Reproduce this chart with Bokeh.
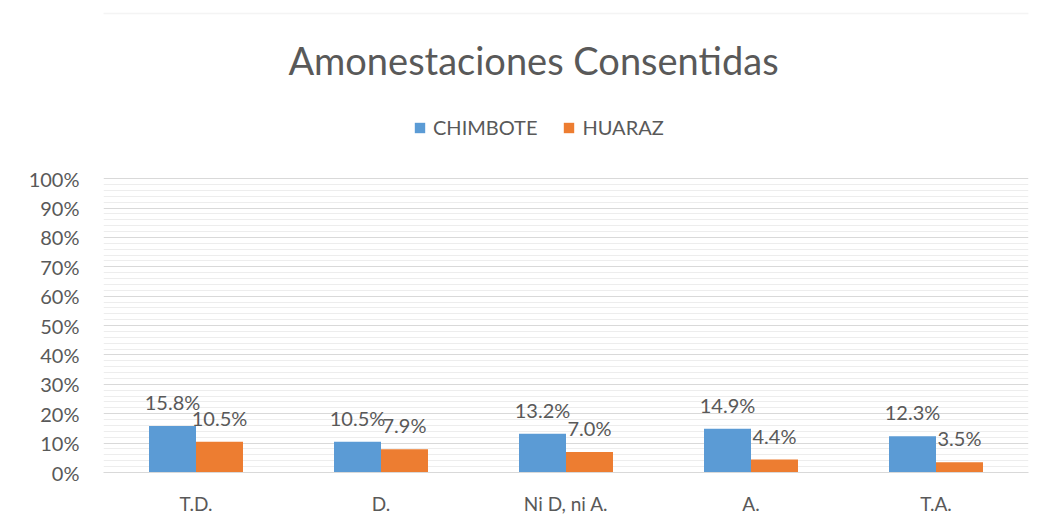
from bokeh.plotting import figure
from bokeh.models import (ColumnDataSource, FactorRange, Range1d, FixedTicker,
                          PrintfTickFormatter, LabelSet, Legend, LegendItem, Label,
                          BoxAnnotation)
from bokeh.core.properties import value
from bokeh.transform import dodge
from bokeh.embed import file_html
from bokeh.resources import INLINE

categories = ["T.D.", "D.", "Ni D, ni A.", "A.", "T.A."]
chimbote = [15.8, 10.5, 13.2, 14.9, 12.3]
huaraz = [10.5, 7.9, 7.0, 4.4, 3.5]
series_names = ["CHIMBOTE", "HUARAZ"]
title_text = "Amonestaciones Consentidas"
major_ticks = [0, 10, 20, 30, 40, 50, 60, 70, 80, 90, 100]
minor_ticks = [v for v in range(2, 100, 2) if v % 10 != 0]

BLUE = "#5B9BD5"
ORANGE = "#ED7D31"
TXT = "#595959"
FONT = "Lato"

src = ColumnDataSource(dict(
    cat=categories,
    chim=chimbote,
    hua=huaraz,
    chim_lbl=[f"{v:.1f}%" for v in chimbote],
    hua_lbl=[f"{v:.1f}%" for v in huaraz],
))

# frame: 295 px for 0..100 -> extended upward to the top of the figure for title/legend
PX = 2.95
BOTTOM = 474
LEFT = 103
YMAX = BOTTOM / PX
p = figure(width=1036, height=517, x_range=FactorRange(*categories, range_padding=0),
           y_range=Range1d(0, YMAX), output_backend="svg", toolbar_location=None,
           min_border_left=LEFT, min_border_right=8, min_border_bottom=517 - BOTTOM,
           min_border_top=0)
p.outline_line_color = None
p.background_fill_color = "white"
p.border_fill_color = "white"

# chart-area border (top edge)
box = BoxAnnotation(left=-98, right=3000, left_units="screen", right_units="screen",
                    top=(BOTTOM - 13) / PX, bottom=-100, fill_alpha=0,
                    line_color="#D9D9D9", line_width=1.5, level="underlay")
p.add_layout(box)

bw = 0.254
r1 = p.vbar(x=dodge("cat", -bw / 2, range=p.x_range), top="chim", width=bw, source=src,
            fill_color=BLUE, line_color=None)
r2 = p.vbar(x=dodge("cat", bw / 2, range=p.x_range), top="hua", width=bw, source=src,
            fill_color=ORANGE, line_color=None)

for col, lbl, off in (("chim", "chim_lbl", -bw / 2), ("hua", "hua_lbl", bw / 2)):
    ls = LabelSet(x=dodge("cat", off, range=p.x_range), y=col, text=lbl, source=src,
                  text_align="center", text_baseline="bottom", y_offset=12,
                  text_font=value(FONT), text_font_size="20px", text_color=TXT)
    p.add_layout(ls)

# y axis
p.yaxis.ticker = FixedTicker(ticks=major_ticks, minor_ticks=minor_ticks)
p.yaxis.formatter = PrintfTickFormatter(format="%d%%")
p.yaxis.axis_line_color = None
p.yaxis.major_tick_line_color = None
p.yaxis.minor_tick_line_color = None
p.yaxis.major_label_text_font = FONT
p.yaxis.major_label_text_font_size = "20px"
p.yaxis.major_label_text_color = TXT
p.yaxis.major_label_standoff = 18

p.ygrid.grid_line_color = "#D9D9D9"
p.ygrid.minor_grid_line_color = "#EDEDED"
p.xgrid.grid_line_color = None

# x axis
p.xaxis.axis_line_color = "#D9D9D9"
p.xaxis.major_tick_line_color = None
p.xaxis.minor_tick_line_color = None
p.xaxis.major_label_text_font = FONT
p.xaxis.major_label_text_font_size = "19px"
p.xaxis.major_label_text_color = TXT
p.xaxis.major_label_standoff = 13

legend = Legend(items=[LegendItem(label=series_names[0], renderers=[r1]),
                       LegendItem(label=series_names[1], renderers=[r2])],
                orientation="horizontal", location=(310, 333),
                label_text_font=FONT, label_text_font_size="20px", label_text_color=TXT,
                glyph_width=13, glyph_height=13, spacing=25, label_standoff=7,
                border_line_color=None, background_fill_alpha=0, margin=0, padding=0)
p.add_layout(legend, "center")

title = Label(x=(533 - LEFT) / 185, y=(BOTTOM - 60) / PX, text=title_text,
              text_align="center", text_baseline="middle", text_font=FONT,
              text_font_size="38px", text_color=TXT)
p.add_layout(title)

open("out.html", "w").write(file_html(p, INLINE))
